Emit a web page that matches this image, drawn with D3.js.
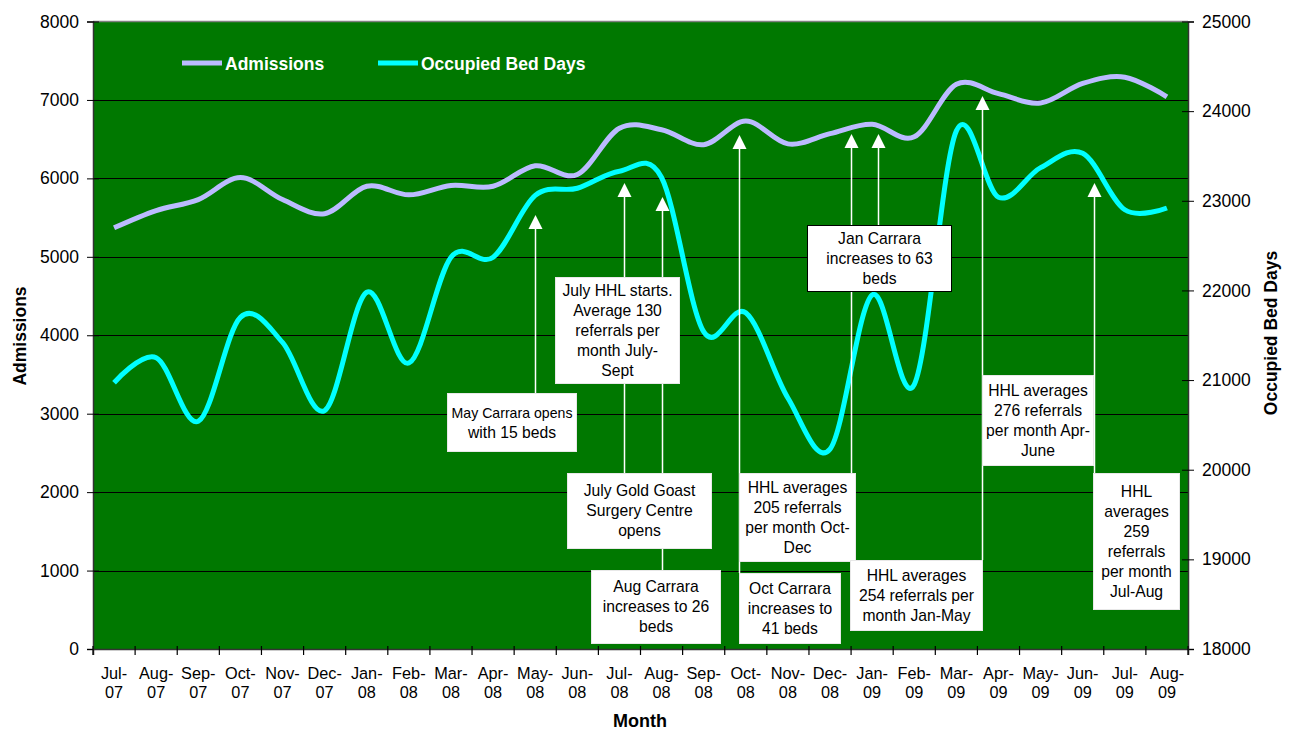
<!DOCTYPE html>
<html>
<head>
<meta charset="utf-8">
<script src="https://cdn.jsdelivr.net/npm/d3@7"></script>
<style>
  body { margin: 0; background: #fff; }
  svg { display: block; font-family: "Liberation Sans", Arial, sans-serif; }
</style>
</head>
<body>
<svg id="chart" width="1292" height="731"></svg>
<script>
// ---- Data ----
const months = ["Jul-07","Aug-07","Sep-07","Oct-07","Nov-07","Dec-07","Jan-08","Feb-08","Mar-08","Apr-08","May-08","Jun-08",
  "Jul-08","Aug-08","Sep-08","Oct-08","Nov-08","Dec-08","Jan-09","Feb-09","Mar-09","Apr-09","May-09","Jun-09","Jul-09","Aug-09"];
const admissions = [5370, 5590, 5730, 6010, 5730, 5550, 5900, 5790, 5910, 5900, 6160, 6050,
  6640, 6620, 6430, 6730, 6440, 6570, 6690, 6530, 7200, 7080, 6960, 7210, 7290, 7040];
const bedDays = [20970, 21250, 20540, 21700, 21420, 20660, 21980, 21190, 22370, 22370, 23060, 23140,
  23330, 23260, 21540, 21750, 20800, 20230, 21950, 20950, 23780, 23040, 23370, 23530, 22900, 22920];
const leftTicks = [0, 1000, 2000, 3000, 4000, 5000, 6000, 7000, 8000];
const rightTicks = [18000, 19000, 20000, 21000, 22000, 23000, 24000, 25000];
const seriesNames = ["Admissions", "Occupied Bed Days"];

// ---- Annotations (text) ----
const noteTexts = [
  ["May Carrara opens", "with 15 beds"],
  ["July HHL starts.", "Average 130", "referrals per", "month July-", "Sept"],
  ["July Gold Goast", "Surgery Centre", "opens"],
  ["Aug Carrara", "increases to 26", "beds"],
  ["HHL averages", "205 referrals", "per month Oct-", "Dec"],
  ["Oct Carrara", "increases to", "41 beds"],
  ["Jan Carrara", "increases to 63", "beds"],
  ["HHL averages", "254 referrals per", "month Jan-May"],
  ["HHL averages", "276 referrals", "per month Apr-", "June"],
  ["HHL", "averages", "259", "referrals", "per month", "Jul-Aug"]
];
// layout for boxes: [x, y, w, h, darkBorder]
const noteBoxes = [
  [447, 393, 129, 58, false],
  [555, 277, 124, 106, false],
  [567, 473, 144, 75, false],
  [591, 570, 129, 73, false],
  [739, 473, 116, 88, false],
  [739, 573, 101, 70, false],
  [807, 225, 144, 66, true],
  [850, 560, 132, 70, false],
  [982, 375, 111, 90, false],
  [1093, 473, 86, 136, false]
];
// arrows: [category index, fractional offset (in bands), tip value (admissions units), bottom pixel y]
const arrows = [
  [10, 0.0, 5533, 393],
  [12, 0.1, 5941, 473],
  [13, 0.0, 5762, 570],
  [15, -0.15, 6553, 573],
  [18, -0.5, 6566, 473],
  [18, 0.15, 6566, 225],
  [21, -0.4, 7050, 560],
  [23, 0.27, 5941, 473]
];

// ---- Layout ----
const M = { left: 93, top: 21.5, right: 1188, bottom: 649 };
const svg = d3.select("#chart");

const x = d3.scaleBand().domain(months).range([M.left, M.right]).padding(0);
const yL = d3.scaleLinear().domain([0, 8000]).range([M.bottom, M.top]);
const yR = d3.scaleLinear().domain([18000, 25000]).range([M.bottom, M.top]);
const cx = (i) => x(months[i]) + x.bandwidth() / 2;

// plot background
svg.append("rect").attr("x", M.left).attr("y", M.top)
  .attr("width", M.right - M.left).attr("height", M.bottom - M.top)
  .attr("fill", "#007800");
// top border
svg.append("line").attr("x1", M.left).attr("x2", M.right).attr("y1", M.top).attr("y2", M.top)
  .attr("stroke", "#808080").attr("stroke-width", 1.5);

// gridlines
svg.append("g").selectAll("line").data(leftTicks.filter(d => d > 0 && d < 8000)).join("line")
  .attr("x1", M.left).attr("x2", M.right)
  .attr("y1", d => Math.round(yL(d)) + 0.5).attr("y2", d => Math.round(yL(d)) + 0.5)
  .attr("stroke", "#000").attr("stroke-width", 1);

// axes
const axisColor = "#333";
const gL = svg.append("g").attr("transform", `translate(${M.left},0)`)
  .call(d3.axisLeft(yL).tickValues(leftTicks).tickSize(6).tickFormat(d3.format("d")));
const gR = svg.append("g").attr("transform", `translate(${M.right},0)`)
  .call(d3.axisRight(yR).tickValues(rightTicks).tickSize(6).tickFormat(d3.format("d")));
const gX = svg.append("g").attr("transform", `translate(0,${M.bottom})`)
  .call(d3.axisBottom(x).tickSize(6).tickFormat(""));
[gL, gR, gX].forEach(g => {
  g.select(".domain").attr("stroke", axisColor).attr("stroke-width", 1.5);
  g.selectAll(".tick line").attr("stroke", "#000");
});
// cross ticks
gL.selectAll(".tick line").attr("x1", 6);
gR.selectAll(".tick line").attr("x1", -6);
gL.selectAll(".tick text").attr("x", -14).attr("font-size", 17.5).attr("fill", "#000")
  .attr("font-family", "Liberation Sans, Arial, sans-serif");
gR.selectAll(".tick text").attr("x", 14).attr("font-size", 17.5).attr("fill", "#000")
  .attr("font-family", "Liberation Sans, Arial, sans-serif");

// x tick lines at band boundaries
gX.selectAll(".tick").remove();
gX.selectAll("line.b").data(d3.range(months.length + 1)).join("line")
  .attr("class", "b")
  .attr("x1", i => M.left + i * x.bandwidth()).attr("x2", i => M.left + i * x.bandwidth())
  .attr("y1", -3).attr("y2", 6).attr("stroke", "#000").attr("stroke-width", 1.2);

// x labels
const xl = svg.append("g").selectAll("text").data(months).join("text")
  .attr("text-anchor", "middle").attr("font-size", 16.3).attr("fill", "#000");
xl.each(function(d, i) {
  const parts = d.split("-");
  const t = d3.select(this);
  t.append("tspan").attr("x", cx(i)).attr("y", 679).text(parts[0] + "-");
  t.append("tspan").attr("x", cx(i)).attr("y", 698).text(parts[1]);
});

// axis titles
svg.append("text").attr("x", 640).attr("y", 727).attr("text-anchor", "middle")
  .attr("font-size", 18).attr("font-weight", "bold").text("Month");
svg.append("text").attr("transform", "translate(26,336) rotate(-90)").attr("text-anchor", "middle")
  .attr("font-size", 17.5).attr("font-weight", "bold").text("Admissions");
svg.append("text").attr("transform", "translate(1277,333) rotate(-90)").attr("text-anchor", "middle")
  .attr("font-size", 17.5).attr("font-weight", "bold").text("Occupied Bed Days");

// lines
const curve = d3.curveCardinal.tension(0);
const lineL = d3.line().x((d, i) => cx(i)).y(d => yL(d)).curve(curve);
const lineR = d3.line().x((d, i) => cx(i)).y(d => yR(d)).curve(curve);
const plot = svg.append("g");
plot.append("path").attr("d", lineR(bedDays)).attr("fill", "none")
  .attr("stroke", "#00FFFF").attr("stroke-width", 5);
plot.append("path").attr("d", lineL(admissions)).attr("fill", "none")
  .attr("stroke", "#BBBBFF").attr("stroke-width", 5);

// legend
const legend = svg.append("g");
const legItems = [
  { name: seriesNames[0], color: "#BBBBFF", x0: 182 },
  { name: seriesNames[1], color: "#00FFFF", x0: 378 }
];
legItems.forEach(it => {
  legend.append("line").attr("x1", it.x0).attr("x2", it.x0 + 40).attr("y1", 63).attr("y2", 63)
    .attr("stroke", it.color).attr("stroke-width", 5);
  legend.append("text").attr("x", it.x0 + 43).attr("y", 70).attr("fill", "#fff")
    .attr("font-size", 17.5).attr("font-weight", "bold").text(it.name);
});

// arrows
const ann = svg.append("g");
arrows.forEach(a => {
  const ax = Math.round(cx(a[0]) + a[1] * x.bandwidth()) + 0.5;
  const tip = yL(a[2]);
  ann.append("line").attr("x1", ax).attr("x2", ax).attr("y1", a[3]).attr("y2", tip + 12)
    .attr("stroke", "#fff").attr("stroke-width", 1.5);
  ann.append("path")
    .attr("d", `M${ax},${tip} L${ax - 7},${tip + 14} L${ax + 7},${tip + 14} Z`)
    .attr("fill", "#fff");
});

// boxes
noteBoxes.forEach((b, k) => {
  const [bx, by, bw, bh, dark] = b;
  ann.append("rect").attr("x", bx + 0.5).attr("y", by + 0.5).attr("width", bw).attr("height", bh)
    .attr("fill", "#fff").attr("stroke", dark ? "#000" : "#e8e8e8").attr("stroke-width", 1);
  const lines = noteTexts[k];
  const lh = 20;
  const startY = by + bh / 2 - (lines.length - 1) * lh / 2 + 5.5;
  const t = ann.append("text").attr("text-anchor", "middle").attr("font-size", 15.7).attr("fill", "#000");
  lines.forEach((ln, j) => {
    const sp = t.append("tspan").attr("x", bx + bw / 2 + 0.5).attr("y", startY + j * lh).text(ln);
    const w = sp.node().getComputedTextLength();
    if (w > bw - 6 && k === 0) {
      sp.attr("font-size", 15.7 * (bw - 8) / w);
    }
  });
});
</script>
</body>
</html>
